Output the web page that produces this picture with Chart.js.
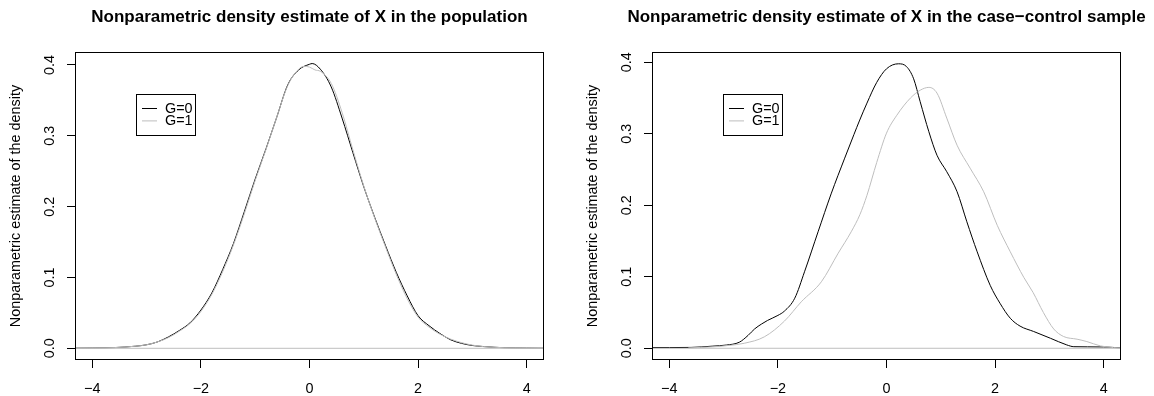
<!DOCTYPE html>
<html>
<head>
<meta charset="utf-8">
<script src="https://cdn.jsdelivr.net/npm/chart.js@4.4.1/dist/chart.umd.min.js"></script>
<style>
body{margin:0;background:#fff;}
#wrap{position:relative;width:1154px;height:396px;}
.pane{position:absolute;top:0;width:577px;height:396px;}
</style>
</head>
<body>
<div id="wrap">
<div class="pane" style="left:0"><canvas id="popChart" width="577" height="396"></canvas></div>
<div class="pane" style="left:577px"><canvas id="ccChart" width="577" height="396"></canvas></div>
</div>
<script>
'use strict';
let titles=['Nonparametric density estimate of X in the population','Nonparametric density estimate of X in the case\u2212control sample'];
let yAxisLabel='Nonparametric estimate of the density';
let legendLabels=['G=0','G=1'];
let xTicks=[-4,-2,0,2,4];
let yTicks=[0,0.1,0.2,0.3,0.4];
let xRange=[-4.319,4.319];
let popYRange=[-0.0165,0.4183];
let ccYRange=[-0.0164,0.4145];

// population, G=0 and G=1
let popX0=[-4.32,-4.0,-3.6,-3.2,-3.0,-2.8,-2.6,-2.4,-2.2,-2.0,-1.8,-1.6,-1.4,-1.2,-1.0,-0.8,-0.6,-0.4,-0.2,0.0,0.05,0.2,0.4,0.6,0.8,1.0,1.2,1.4,1.6,1.8,2.0,2.2,2.4,2.6,2.8,3.0,3.2,3.6,4.0,4.32];
let popG0=[0.0002,0.0004,0.001,0.003,0.005,0.009,0.016,0.025,0.036,0.054,0.078,0.111,0.148,0.193,0.239,0.282,0.327,0.372,0.393,0.401,0.402,0.394,0.369,0.325,0.276,0.228,0.185,0.145,0.107,0.074,0.046,0.032,0.021,0.012,0.007,0.004,0.0025,0.0008,0.0003,0.0001];
let popX1=[-4.32,-4.0,-3.6,-3.2,-3.0,-2.8,-2.6,-2.4,-2.2,-2.0,-1.8,-1.6,-1.4,-1.2,-1.0,-0.8,-0.6,-0.4,-0.2,-0.1,0.0,0.1,0.2,0.4,0.6,0.8,1.0,1.2,1.4,1.6,1.8,2.0,2.2,2.4,2.6,2.8,3.0,3.2,3.6,4.0,4.32];
let popG1=[0.0002,0.0004,0.001,0.003,0.005,0.009,0.015,0.024,0.035,0.052,0.076,0.108,0.146,0.190,0.237,0.281,0.327,0.371,0.394,0.398,0.397,0.393,0.391,0.374,0.333,0.280,0.229,0.184,0.143,0.104,0.070,0.044,0.030,0.020,0.013,0.008,0.0045,0.0025,0.0008,0.0003,0.0001];

// case-control sample, G=0 and G=1
let ccX0=[-4.32,-4.0,-3.6,-3.2,-2.95,-2.71,-2.55,-2.43,-2.3,-2.19,-2.0,-1.88,-1.69,-1.51,-1.26,-1.02,-0.77,-0.6,-0.5,-0.36,-0.18,0.0,0.22,0.37,0.5,0.62,0.78,0.93,1.11,1.3,1.48,1.67,1.91,2.09,2.28,2.46,2.71,3.02,3.32,3.45,3.7,4.0,4.32];
let ccG0=[0.001,0.001,0.0012,0.003,0.0045,0.0085,0.018,0.027,0.034,0.039,0.046,0.052,0.070,0.107,0.163,0.216,0.266,0.299,0.318,0.343,0.372,0.391,0.398,0.394,0.377,0.345,0.303,0.270,0.247,0.219,0.177,0.135,0.088,0.063,0.042,0.031,0.0235,0.014,0.0047,0.0022,0.002,0.0018,0.0005];
let ccX1=[-3.65,-3.2,-2.9,-2.62,-2.25,-1.88,-1.57,-1.2,-0.89,-0.65,-0.49,-0.36,-0.18,0.0,0.19,0.44,0.62,0.78,0.93,1.11,1.3,1.54,1.79,2.04,2.28,2.53,2.7,2.89,3.08,3.26,3.51,3.69,3.94,4.18,4.32];
let ccG1=[0.0005,0.002,0.004,0.007,0.016,0.038,0.065,0.093,0.133,0.163,0.187,0.214,0.260,0.301,0.326,0.350,0.361,0.365,0.357,0.322,0.284,0.252,0.219,0.172,0.135,0.099,0.078,0.050,0.027,0.0165,0.0127,0.0094,0.0033,0.001,0.0003];

let lineColors=['#000000','#bebebe'];
let fontFam='"Liberation Sans", Arial, Helvetica, sans-serif';

Chart.defaults.font.family=fontFam;
Chart.defaults.color='#000';

function toPoints(xs,ys)
{
    let pts=[];
    for(let i=0;i<xs.length;i++)
    {
        pts.push({x:xs[i],y:ys[i]});
    }
    return pts;
}

function minus(v)
{
    return (v<0?'\u2212':'')+Math.abs(v);
}

// box, zero line, title, rotated y tick labels and the legend, R style
let rPlot={
    id:'rPlot',
    afterDatasetsDraw(chart,args,opt)
    {
        let ctx=chart.ctx;
        let a=chart.chartArea;
        let ys=chart.scales.y;
        ctx.save();
        let y0=ys.getPixelForValue(0);
        ctx.strokeStyle='#bebebe';
        ctx.lineWidth=1;
        ctx.beginPath();
        ctx.moveTo(a.left,y0);
        ctx.lineTo(a.right,y0);
        ctx.stroke();

        ctx.strokeStyle='#000';
        ctx.strokeRect(a.left+0.5,a.top+0.5,a.right-a.left-1,a.bottom-a.top-1);

        ctx.fillStyle='#000';
        ctx.font='bold 17px '+fontFam;
        ctx.textAlign='center';
        ctx.textBaseline='middle';
        ctx.fillText(opt.title,(a.left+a.right)/2,17);

        ctx.font='14.4px '+fontFam;
        for(let i=0;i<yTicks.length;i++)
        {
            let py=ys.getPixelForValue(yTicks[i]);
            ctx.save();
            ctx.translate(50,py);
            ctx.rotate(-Math.PI/2);
            ctx.fillText(yTicks[i].toFixed(1),0,0);
            ctx.restore();
        }

        // legend
        let lx=opt.legendX, ly=94.5;
        ctx.strokeStyle='#000';
        ctx.strokeRect(lx+0.5,ly,59,41);
        ctx.textAlign='left';
        for(let i=0;i<legendLabels.length;i++)
        {
            let ry=108.5+i*12.4;
            ctx.strokeStyle=lineColors[i];
            ctx.beginPath();
            ctx.moveTo(lx+6,ry);
            ctx.lineTo(lx+21,ry);
            ctx.stroke();
            ctx.fillStyle='#000';
            ctx.fillText(legendLabels[i],lx+29,ry+0.5);
        }
        ctx.restore();
    }
};

function makeChart(id,title,xs0,ys0,xs1,ys1,yRange,legendX)
{
    let ctx=document.getElementById(id).getContext('2d');
    return new Chart(ctx,{
        type:'line',
        data:{
            datasets:[{
                label:legendLabels[0],
                data:toPoints(xs0,ys0),
                borderColor:lineColors[0],
                borderWidth:1,
                pointRadius:0,
                fill:false,
                cubicInterpolationMode:'monotone',
                order:1
            },{
                label:legendLabels[1],
                data:toPoints(xs1,ys1),
                borderColor:lineColors[1],
                borderWidth:1,
                pointRadius:0,
                fill:false,
                cubicInterpolationMode:'monotone',
                order:0
            }]
        },
        options:{
            responsive:false,
            animation:false,
            layout:{padding:{top:52,right:33,left:0,bottom:0}},
            plugins:{
                legend:{display:false},
                tooltip:{enabled:false},
                rPlot:{title:title,legendX:legendX}
            },
            scales:{
                x:{
                    type:'linear',
                    min:xRange[0],
                    max:xRange[1],
                    afterBuildTicks:function(s){s.ticks=xTicks.map(v=>({value:v}));},
                    afterFit:function(s){s.height=36;},
                    grid:{display:true,drawOnChartArea:false,drawTicks:true,tickLength:8,color:'#000'},
                    border:{display:false},
                    ticks:{font:{size:14.4},padding:12,maxRotation:0,callback:v=>minus(v)}
                },
                y:{
                    type:'linear',
                    min:yRange[0],
                    max:yRange[1],
                    afterBuildTicks:function(s){s.ticks=yTicks.map(v=>({value:v}));},
                    afterFit:function(s){s.width=75;},
                    grid:{display:true,drawOnChartArea:false,drawTicks:true,tickLength:8,color:'#000'},
                    border:{display:false},
                    ticks:{display:false},
                    title:{display:true,text:yAxisLabel,font:{size:14.4},padding:{top:7,bottom:0}}
                }
            }
        },
        plugins:[rPlot]
    });
}

makeChart('popChart',titles[0],popX0,popG0,popX1,popG1,popYRange,136);
makeChart('ccChart',titles[1],ccX0,ccG0,ccX1,ccG1,ccYRange,146);
</script>
</body>
</html>
